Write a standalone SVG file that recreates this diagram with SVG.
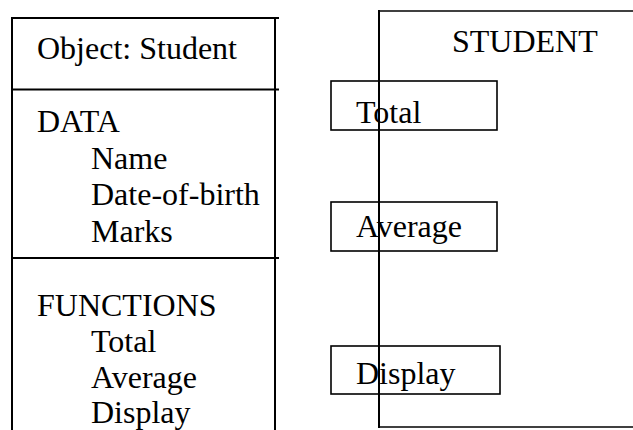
<svg xmlns="http://www.w3.org/2000/svg" width="633" height="430" viewBox="0 0 633 430">
  <style>
    .txt { font-family: "Liberation Serif", "Times New Roman", serif; font-size: 32px; fill: #000; }
    .rule { stroke: #000; stroke-width: 2; fill: none; }
    .box { stroke: #000; stroke-width: 1.6; fill: none; }
  </style>
  <rect width="633" height="430" fill="#fff"/>

  <!-- Object card: header, data and function sections -->
  <g id="object-card">
    <line class="rule" x1="12" y1="18" x2="279" y2="18"/>
    <line class="rule" x1="12" y1="17" x2="12" y2="430"/>
    <line class="rule" x1="275" y1="17" x2="275" y2="430"/>
    <line class="rule" x1="12" y1="89.5" x2="279" y2="89.5"/>
    <line class="rule" x1="12" y1="258" x2="279" y2="258"/>
    <text class="txt" x="37" y="59">Object: Student</text>
    <text class="txt" x="37" y="132">DATA</text>
    <text class="txt" x="91" y="169">Name</text>
    <text class="txt" x="91" y="205">Date-of-birth</text>
    <text class="txt" x="91" y="242">Marks</text>
    <text class="txt" x="37" y="316">FUNCTIONS</text>
    <text class="txt" x="91" y="352">Total</text>
    <text class="txt" x="91" y="388">Average</text>
    <text class="txt" x="91" y="423">Display</text>
  </g>

  <!-- STUDENT object frame with its interface functions on the left edge -->
  <g id="student">
    <line class="box" x1="379" y1="11" x2="633" y2="11"/>
    <line class="box" x1="379" y1="427" x2="633" y2="427"/>
    <text class="txt" x="452" y="52">STUDENT</text>
  </g>

  <g id="total">
    <rect class="box" x="331" y="81" width="166" height="49"/>
    <text class="txt" x="356" y="123">Total</text>
  </g>

  <g id="average">
    <rect class="box" x="331" y="202" width="166" height="49"/>
    <text class="txt" x="356" y="237">Average</text>
  </g>

  <g id="display">
    <rect class="box" x="331" y="346" width="169" height="48"/>
    <text class="txt" x="356" y="384">Display</text>
  </g>

  <!-- frame edge drawn last so it runs over the function boxes -->
  <line class="rule" x1="379" y1="10" x2="379" y2="428"/>
</svg>
